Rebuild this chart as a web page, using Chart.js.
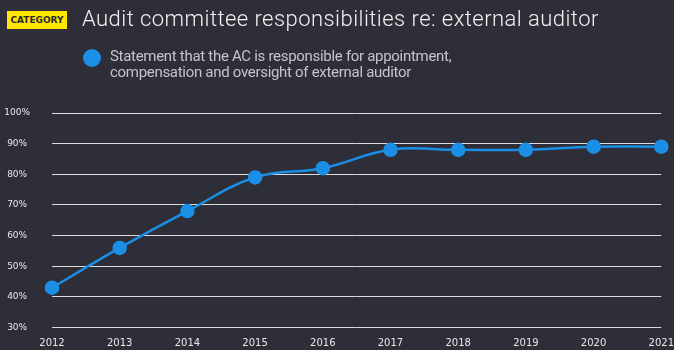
<!DOCTYPE html>
<html>
<head>
<meta charset="utf-8">
<script src="https://cdn.jsdelivr.net/npm/chart.js@4"></script>
<style>
  html, body { margin: 0; padding: 0; background: #2e2e38; }
  #wrap { position: relative; width: 674px; height: 350px; overflow: hidden; }
  #badge { position: absolute; left: 7px; top: 11px; width: 60px; height: 18px; background: #ffe600;
    color: #2a2a32; font-family: "DejaVu Sans", sans-serif; font-weight: bold; font-size: 9px; line-height: 18px; text-align: center; }
  #title { position: absolute; left: 82px; top: 6px; color: #f2f2f2; font: 300 22px Roboto, sans-serif;
    letter-spacing: 0.45px; white-space: nowrap; }
  #dot { position: absolute; left: 83px; top: 49px; width: 18px; height: 18px; border-radius: 50%; background: #1b8fe6; }
  #legend { position: absolute; left: 110px; top: 48px; color: #c4c4cd; font: 15px Roboto, sans-serif; line-height: 16px;
    letter-spacing: -0.3px; }
  #box { position: absolute; left: 0; top: 0; width: 676px; height: 355px; }
</style>
</head>
<body>
<div id="wrap">
  <div id="box"><canvas id="chart"></canvas></div>
  <div id="badge">CATEGORY</div>
  <div id="title">Audit committee responsibilities re: external auditor</div>
  <div id="dot"></div>
  <div id="legend">Statement that the AC is responsible for appointment,<br>compensation and oversight of external auditor</div>
</div>
<script>
var years = ['2012', '2013', '2014', '2015', '2016', '2017', '2018', '2019', '2020', '2021'];
var values = [43, 56, 68, 79, 82, 88, 88, 88, 89, 89];
var seriesName = 'Statement that the AC is responsible for appointment, compensation and oversight of external auditor';
var yMin = 30, yMax = 100, yStep = 10;

var ctx = document.getElementById('chart').getContext('2d');
var myChart = new Chart(ctx, {
  type: 'line',
  data: {
    labels: years,
    datasets: [{
      label: seriesName,
      data: values,
      borderColor: '#1b8fe6',
      backgroundColor: '#1b8fe6',
      borderWidth: 2.5,
      pointRadius: 6,
      pointHoverRadius: 6,
      tension: 0.4
    }]
  },
  options: {
    responsive: true,
    maintainAspectRatio: false,
    animation: false,
    layout: { padding: { top: 113, left: 0, right: 0, bottom: 0 } },
    plugins: { legend: { display: false }, tooltip: { enabled: false } },
    scales: {
      x: {
        grid: { display: false },
        border: { display: false },
        ticks: { color: '#e8e8ea', font: { family: 'DejaVu Sans', size: 10 }, padding: 2, maxRotation: 0 }
      },
      y: {
        min: yMin,
        max: yMax,
        afterFit: function (axis) { axis.width = 52; },
        grid: { color: '#dcdcdc', lineWidth: 1, drawTicks: false },
        border: { display: false },
        ticks: {
          stepSize: yStep,
          crossAlign: 'center',
          padding: 22,
          color: '#e8e8ea',
          font: { family: 'DejaVu Sans', size: 9 },
          callback: function (v) { return v + '%'; }
        }
      }
    }
  }
});
</script>
</body>
</html>
